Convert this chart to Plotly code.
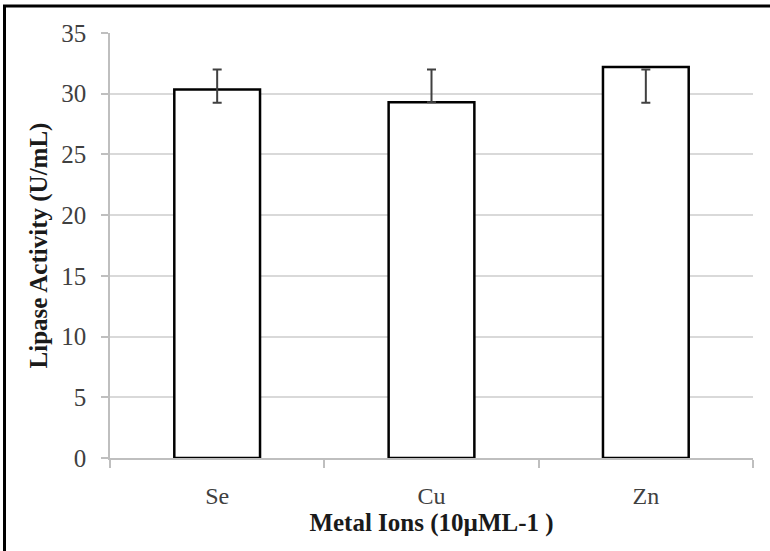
import plotly.graph_objects as go

categories = ["Se", "Cu", "Zn"]
activity = [30.35, 29.3, 32.2]
err_low = [29.25, 29.3, 29.25]
err_high = [32.0, 32.0, 32.0]
y_ticks = [0, 5, 10, 15, 20, 25, 30, 35]

W, H = 770, 551
L, R, T, B = 110, 17, 33, 93
pw, ph = W - L - R, H - T - B

fig = go.Figure()
fig.add_trace(go.Bar(
    x=categories, y=activity,
    marker=dict(color="white", line=dict(color="black", width=2.5)),
    width=0.4, showlegend=False, hoverinfo="skip",
))
fig.add_trace(go.Scatter(
    x=categories, y=err_low, mode="markers",
    marker=dict(size=1, color="rgba(0,0,0,0)"),
    error_y=dict(type="data", symmetric=False,
                 array=[h - l for h, l in zip(err_high, err_low)],
                 arrayminus=[0, 0, 0],
                 color="#404040", thickness=2, width=4.5),
    showlegend=False, hoverinfo="skip",
))

def px_x(px):
    return (px - L) / pw

def px_y(py):
    return (H - B - py) / ph

border = dict(color="black", width=3)
fig.add_shape(type="line", xref="paper", yref="paper",
              x0=px_x(4.5), x1=px_x(4.5), y0=px_y(6), y1=px_y(560), line=border)
fig.add_shape(type="line", xref="paper", yref="paper",
              x0=px_x(3), x1=px_x(775), y0=px_y(6), y1=px_y(6), line=border)

font_family = "Liberation Serif"
fig.update_layout(
    width=W, height=H,
    margin=dict(l=L, r=R, t=T, b=B),
    paper_bgcolor="white", plot_bgcolor="white",
    font=dict(family=font_family, color="#262626"),
    xaxis=dict(
        type="category",
        showline=True, linecolor="#bfbfbf", linewidth=1.5,
        ticks="outside", tickson="boundaries", ticklen=8, tickcolor="#bfbfbf", tickwidth=1.5,
        tickfont=dict(family=font_family, size=24, color="#404040"),
        ticklabelstandoff=15,
        title=dict(text="<b>Metal Ions (10µML-1 )</b>",
                   font=dict(family=font_family, size=25, color="#1a1a1a"), standoff=2),
        showgrid=False,
    ),
    yaxis=dict(
        range=[0, 35], tickvals=y_ticks,
        showline=True, linecolor="#bfbfbf", linewidth=1.5,
        ticks="outside", ticklen=7, tickcolor="#bfbfbf", tickwidth=1.5,
        showgrid=True, gridcolor="#d9d9d9", gridwidth=1.5,
        zeroline=False,
        tickfont=dict(family=font_family, size=25, color="#404040"),
        ticklabelstandoff=10,
        title=dict(text="<b>Lipase Activity (U/mL)</b>",
                   font=dict(family=font_family, size=25, color="#1a1a1a"), standoff=7),
    ),
)

fig.write_html("out.html", config={"displayModeBar": False},
               post_script="document.body.style.margin='0';document.body.style.overflow='hidden';")
